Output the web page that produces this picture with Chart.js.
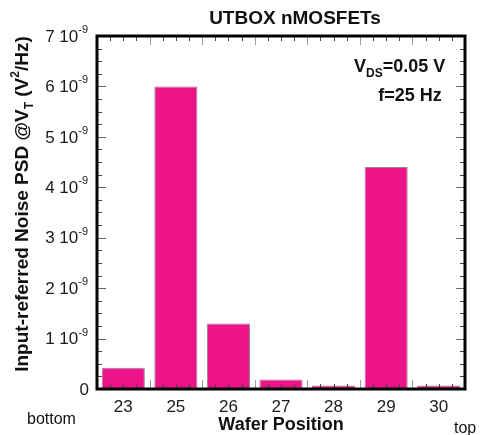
<!DOCTYPE html>
<html>
<head>
<meta charset="utf-8">
<script src="https://cdn.jsdelivr.net/npm/chart.js@4.4.1/dist/chart.umd.min.js"></script>
<style>
  html, body { margin: 0; padding: 0; background: #fff; }
  canvas { display: block; }
</style>
</head>
<body>
<canvas id="psdChart" width="481" height="435"></canvas>
<script>
// data
const positions = ['23', '25', '26', '27', '28', '29', '30'];
const noisePsd = [0.42e-9, 6.0e-9, 1.30e-9, 0.19e-9, 0.07e-9, 4.40e-9, 0.07e-9];
const yTickMantissa = [0, 1, 2, 3, 4, 5, 6, 7];
const yTickExponent = '-9';

const FONT = 'Arial, "Liberation Sans", sans-serif';
const ctx = document.getElementById('psdChart').getContext('2d');

// text with a raised / lowered small part
function drawParts(c, parts, x, y, align) {
  let total = 0;
  parts.forEach(p => { c.font = p.font; total += c.measureText(p.text).width; });
  let cx = align === 'right' ? x - total : align === 'center' ? x - total / 2 : x;
  parts.forEach(p => {
    c.font = p.font;
    c.fillText(p.text, cx, y + (p.dy || 0));
    cx += c.measureText(p.text).width;
  });
}

const decor = {
  id: 'decor',
  afterDatasetsDraw(chart) {
    const c = chart.ctx;
    const a = chart.chartArea;
    const xs = chart.scales.x;
    const ys = chart.scales.y;
    c.save();

    // minor ticks on y, both sides
    c.lineWidth = 1;
    for (let v = 0; v <= 7.0001; v += 0.25) {
      const py = Math.round(ys.getPixelForValue(v * 1e-9)) + 0.5;
      const major = Math.abs(v - Math.round(v)) < 1e-6;
      const len = major ? 9 : 5;
      c.strokeStyle = major ? '#666' : '#444';
      c.beginPath();
      c.moveTo(a.left, py); c.lineTo(a.left + len, py);
      c.moveTo(a.right, py); c.lineTo(a.right - len, py);
      c.stroke();
    }

    // x ticks, quarter steps of a category
    const step = (xs.getPixelForValue(1) - xs.getPixelForValue(0)) / 4;
    const start = xs.getPixelForValue(0) - 2 * step;
    for (let i = 0; i <= positions.length * 4; i++) {
      const px = Math.round(start + i * step) + 0.5;
      const major = i % 4 === 0;
      const len = major ? 9 : 5;
      c.strokeStyle = major ? '#999' : '#444';
      c.beginPath();
      c.moveTo(px, a.bottom); c.lineTo(px, a.bottom - len);
      c.moveTo(px, a.top); c.lineTo(px, a.top + len);
      c.stroke();
    }

    // frame
    c.strokeStyle = '#000';
    c.lineWidth = 3;
    c.strokeRect(a.left, a.top, a.right - a.left, a.bottom - a.top);

    c.fillStyle = '#1a1a1a';
    c.textBaseline = 'middle';

    // y tick labels
    yTickMantissa.forEach(m => {
      const py = ys.getPixelForValue(m * 1e-9);
      if (m === 0) {
        drawParts(c, [{ text: '0', font: '17px ' + FONT }], 89, py + 1, 'right');
      } else {
        drawParts(c, [
          { text: m + ' 10', font: '17px ' + FONT },
          { text: yTickExponent, font: '11px ' + FONT, dy: -7 }
        ], 88, py + 1, 'right');
      }
    });

    // x tick labels
    c.font = '17px ' + FONT;
    c.textAlign = 'center';
    positions.forEach((p, i) => {
      c.fillText(p, xs.getPixelForValue(i), 407);
    });

    // axis titles and notes
    c.fillStyle = '#111';
    c.font = 'bold 19px ' + FONT;
    c.fillText('UTBOX nMOSFETs', 295, 19);
    c.font = 'bold 18px ' + FONT;
    c.fillText('Wafer Position', 281, 425);
    c.textAlign = 'left';
    c.font = '16px ' + FONT;
    c.fillText('bottom', 27, 420);
    c.fillText('top', 454, 429);

    // V_DS annotation
    c.textAlign = 'left';
    drawParts(c, [
      { text: 'V', font: 'bold 18px ' + FONT },
      { text: 'DS', font: 'bold 12px ' + FONT, dy: 7 },
      { text: '=0.05 V', font: 'bold 18px ' + FONT }
    ], 354, 67, 'left');
    drawParts(c, [{ text: 'f=25 Hz', font: 'bold 18px ' + FONT }], 410, 96, 'center');

    // rotated y axis title
    c.save();
    c.translate(23, 204);
    c.rotate(-Math.PI / 2);
    drawParts(c, [
      { text: 'Input-referred Noise PSD @V', font: 'bold 19px ' + FONT },
      { text: 'T', font: 'bold 12px ' + FONT, dy: 7 },
      { text: ' (V', font: 'bold 19px ' + FONT },
      { text: '2', font: 'bold 12px ' + FONT, dy: -7 },
      { text: '/Hz)', font: 'bold 19px ' + FONT }
    ], 0, 0, 'center');
    c.restore();

    c.restore();
  }
};

new Chart(ctx, {
  type: 'bar',
  data: {
    labels: positions,
    datasets: [{
      data: noisePsd,
      backgroundColor: '#ED148A',
      borderColor: 'rgba(110,80,95,0.7)',
      borderWidth: 1,
      barPercentage: 0.82,
      categoryPercentage: 1
    }]
  },
  options: {
    responsive: false,
    animation: false,
    layout: { padding: { left: 97, right: 16, top: 36, bottom: 46 } },
    plugins: { legend: { display: false }, tooltip: { enabled: false } },
    scales: {
      x: { display: false, offset: true },
      y: { display: false, min: 0, max: 7e-9 }
    }
  },
  plugins: [decor]
});
</script>
</body>
</html>
